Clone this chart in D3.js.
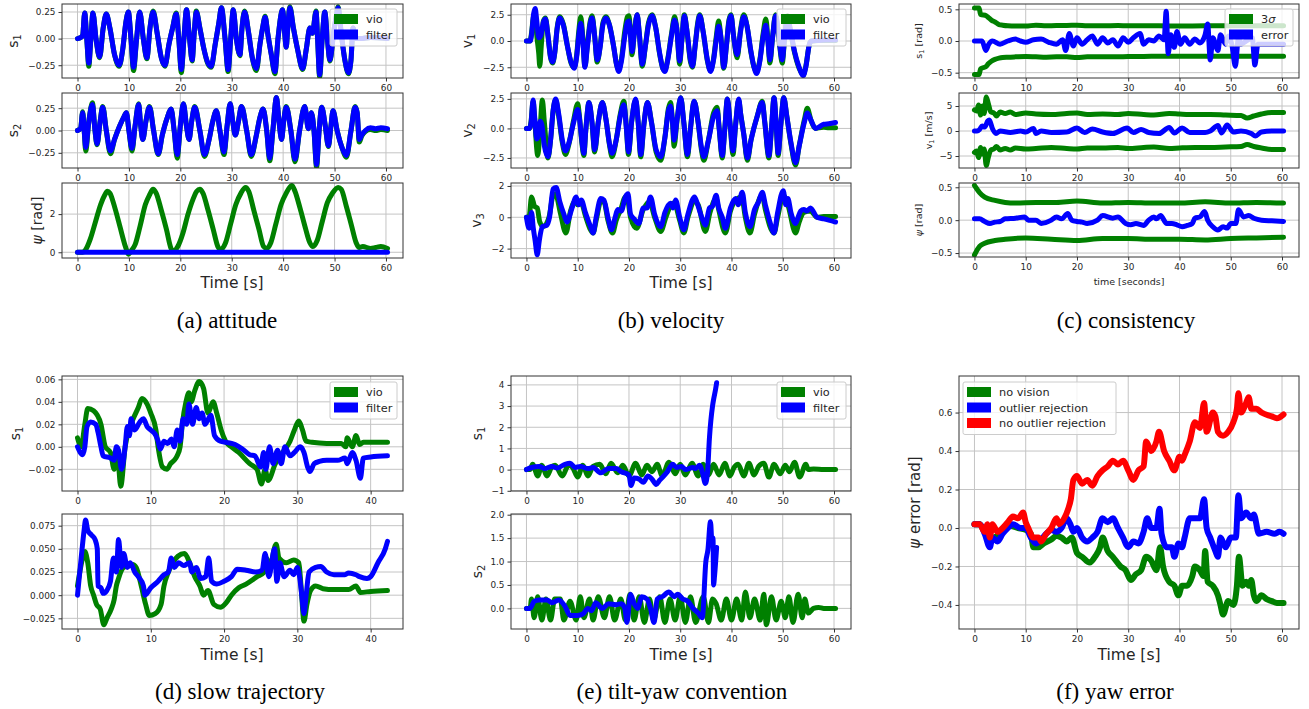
<!DOCTYPE html>
<html>
<head>
<meta charset="utf-8">
<script src="https://cdn.jsdelivr.net/npm/d3@7"></script>
<style>
body { margin: 0; background: #fff; }
svg { display: block; font-family: "DejaVu Sans", sans-serif; }
</style>
</head>
<body>
<svg id="fig" width="1309" height="709"></svg>
<script>
// ---- (a) attitude ----
var attS1Vio = [[0,0],[0.6,0.01],[1.0,0.03],[1.4,0.24],[1.8,0.0],[2.2,-0.26],[2.6,0.0],[3.0,0.24],[3.6,0.0],[4.3,-0.18],[5.0,0.1],[5.6,0.23],[6.3,0.1],[7.2,-0.15],[8.1,-0.26],[8.8,-0.1],[9.4,0.15],[9.9,0.25],[10.4,0.0],[10.9,-0.3],[11.5,0.0],[12.1,0.25],[12.8,0.0],[13.5,-0.19],[14.1,0.1],[14.7,0.26],[15.5,0.05],[16.3,-0.18],[17.0,-0.26],[17.8,-0.05],[18.5,0.1],[19.2,0.24],[19.7,0.0],[20.2,-0.32],[20.7,0.0],[21.2,0.27],[21.8,0.0],[22.3,-0.21],[22.7,0.05],[23.1,0.26],[23.8,0.1],[24.6,-0.1],[25.3,-0.23],[26.0,-0.27],[26.8,-0.05],[27.5,0.15],[28.0,0.29],[28.7,0.0],[29.3,-0.31],[29.8,0.0],[30.3,0.27],[30.9,0.0],[31.6,-0.16],[32.0,0.1],[32.5,0.26],[33.3,0.05],[34.0,-0.18],[34.8,-0.3],[35.5,-0.05],[36.0,0.1],[36.5,0.21],[37.0,0.05],[37.7,-0.15],[38.4,-0.33],[39.0,0.0],[39.9,0.27],[40.3,0.05],[40.6,-0.08],[40.9,0.1],[41.3,0.3],[42.0,0.1],[42.8,-0.1],[43.8,-0.29],[44.5,-0.1],[45.2,0.1],[45.7,0.05],[46.4,0.26],[46.7,0.0],[47.1,-0.36],[47.6,0.0],[48.1,0.25],[48.6,0.0],[49.1,-0.21],[49.8,0.05],[50.3,0.2],[50.7,0.3],[51.3,0.05],[52.0,-0.2],[52.7,-0.33],[53.2,-0.2],[53.6,0.1],[54.0,0.0],[55,0.0],[57,0.01],[60.3,0.0]];
var attS1Filter = [[0,0],[0.6,0.01],[1.0,0.03],[1.4,0.24],[1.8,0.0],[2.2,-0.23],[2.6,0.0],[3.0,0.24],[3.6,0.0],[4.3,-0.17],[5.0,0.1],[5.6,0.23],[6.3,0.1],[7.2,-0.15],[8.1,-0.25],[8.8,-0.1],[9.4,0.15],[9.9,0.25],[10.4,0.0],[10.9,-0.27],[11.5,0.0],[12.1,0.25],[12.8,0.0],[13.5,-0.18],[14.1,0.1],[14.7,0.25],[15.5,0.05],[16.3,-0.18],[17.0,-0.25],[17.8,-0.05],[18.5,0.1],[19.2,0.23],[19.7,0.0],[20.2,-0.29],[20.7,0.0],[21.2,0.27],[21.8,0.0],[22.3,-0.2],[22.7,0.05],[23.1,0.25],[23.8,0.1],[24.6,-0.1],[25.3,-0.22],[26.0,-0.26],[26.8,-0.05],[27.5,0.15],[28.0,0.29],[28.7,0.0],[29.3,-0.29],[29.8,0.0],[30.3,0.27],[30.9,0.0],[31.6,-0.15],[32.0,0.1],[32.5,0.25],[33.3,0.05],[34.0,-0.18],[34.8,-0.28],[35.5,-0.05],[36.0,0.1],[36.5,0.2],[37.0,0.05],[37.7,-0.15],[38.4,-0.31],[39.0,0.0],[39.9,0.27],[40.3,0.05],[40.6,-0.08],[40.9,0.1],[41.3,0.29],[42.0,0.1],[42.8,-0.1],[43.8,-0.28],[44.5,-0.1],[45.2,0.1],[45.7,0.05],[46.4,0.25],[46.7,0.0],[47.1,-0.34],[47.6,0.0],[48.1,0.25],[48.6,0.0],[49.1,-0.2],[49.8,0.05],[50.3,0.2],[50.7,0.29],[51.3,0.05],[52.0,-0.2],[52.7,-0.32],[53.2,-0.2],[53.6,0.1],[54.0,0.0],[55,0.0],[57,0.01],[60.3,0.0]];
var attS2Vio = [[0,0],[0.6,0.02],[1.0,0.21],[1.3,0.0],[1.6,-0.23],[2.2,0.1],[2.9,0.31],[3.4,0.0],[3.8,-0.16],[4.4,0.1],[4.9,0.27],[5.6,0.0],[6.4,-0.26],[7.2,-0.1],[8.2,0.05],[9.0,0.15],[9.5,0.2],[10.0,0.0],[10.6,-0.23],[11.2,0.05],[11.9,0.3],[12.3,0.05],[12.7,-0.1],[13.3,0.1],[14.0,0.27],[14.8,0.0],[15.7,-0.27],[16.5,-0.05],[17.5,0.15],[18.2,0.24],[18.8,0.0],[19.4,-0.31],[20.0,0.05],[20.6,0.3],[21.2,0.05],[21.7,-0.1],[22.2,0.1],[22.8,0.27],[23.8,0.0],[24.7,-0.29],[25.6,-0.1],[26.3,0.1],[27.0,0.22],[27.7,0.0],[28.5,-0.27],[29.1,0.05],[29.7,0.3],[30.2,0.1],[30.7,-0.05],[31.3,0.1],[31.9,0.27],[32.9,0.0],[33.8,-0.29],[34.8,-0.05],[35.5,0.15],[36.1,0.24],[36.8,0.0],[37.4,-0.34],[38.0,0.0],[38.7,0.37],[39.2,0.1],[39.7,-0.1],[40.1,0.1],[40.6,0.27],[41.5,0.0],[42.3,-0.35],[43.2,0.0],[44.2,0.27],[44.9,0.02],[45.5,0.2],[46.0,0.0],[46.5,-0.41],[47.0,0.0],[47.5,0.26],[48.2,0.05],[48.8,-0.18],[49.3,0.05],[49.7,0.22],[50.5,0.0],[51.5,-0.2],[52.3,-0.3],[53.2,0.0],[54.0,0.27],[54.4,0.2],[54.8,-0.13],[55.3,-0.06],[56.0,-0.01],[57.0,0.01],[58.0,0.0],[59.0,0.01],[60.3,0.0]];
var attS2Filter = [[0,0],[0.6,0.02],[1.0,0.2],[1.3,0.0],[1.6,-0.19],[2.2,0.1],[2.9,0.29],[3.4,0.0],[3.8,-0.15],[4.4,0.1],[4.9,0.26],[5.6,0.0],[6.4,-0.23],[7.2,-0.1],[8.2,0.05],[9.0,0.15],[9.5,0.2],[10.0,0.0],[10.6,-0.2],[11.2,0.05],[11.9,0.29],[12.3,0.05],[12.7,-0.1],[13.3,0.1],[14.0,0.26],[14.8,0.0],[15.7,-0.26],[16.5,-0.05],[17.5,0.15],[18.2,0.24],[18.8,0.0],[19.4,-0.27],[20.0,0.05],[20.6,0.3],[21.2,0.05],[21.7,-0.1],[22.2,0.1],[22.8,0.26],[23.8,0.0],[24.7,-0.27],[25.6,-0.1],[26.3,0.1],[27.0,0.22],[27.7,0.0],[28.5,-0.24],[29.1,0.05],[29.7,0.3],[30.2,0.1],[30.7,-0.05],[31.3,0.1],[31.9,0.27],[32.9,0.0],[33.8,-0.27],[34.8,-0.05],[35.5,0.15],[36.1,0.24],[36.8,0.0],[37.4,-0.31],[38.0,0.0],[38.7,0.37],[39.2,0.1],[39.7,-0.1],[40.1,0.1],[40.6,0.26],[41.5,0.0],[42.3,-0.32],[43.2,0.0],[44.2,0.27],[44.9,0.02],[45.5,0.2],[46.0,0.0],[46.5,-0.38],[47.0,0.0],[47.5,0.26],[48.2,0.05],[48.8,-0.17],[49.3,0.05],[49.7,0.22],[50.5,0.0],[51.5,-0.2],[52.3,-0.28],[53.2,0.0],[54.0,0.26],[54.4,0.2],[54.8,-0.1],[55.3,-0.05],[56.0,0.0],[57.0,0.03],[58.0,0.02],[59.0,0.03],[60.3,0.02]];
var attPsiVio = [[0,0],[1.0,0.0],[1.5,0.1],[2.5,0.7],[3.5,1.6],[4.5,2.5],[5.3,3.0],[5.8,3.2],[6.3,3.1],[7.3,2.3],[8.3,1.3],[9.2,0.4],[9.7,0.0],[9.9,-0.1],[10.5,0.1],[11.2,0.4],[12.2,1.4],[13.2,2.5],[14.0,3.0],[14.7,3.3],[15.3,3.1],[16.3,2.2],[17.3,1.2],[18.2,0.2],[18.6,0.05],[19.5,0.3],[20.5,1.0],[21.5,2.0],[22.5,2.8],[23.2,3.2],[23.8,3.3],[24.4,3.1],[25.4,2.2],[26.4,1.2],[27.3,0.3],[27.8,0.15],[28.8,0.5],[29.8,1.5],[30.8,2.5],[31.8,3.1],[32.7,3.4],[33.3,3.2],[34.3,2.2],[35.3,1.2],[36.2,0.3],[36.8,0.2],[37.6,0.5],[38.6,1.5],[39.6,2.5],[40.6,3.1],[41.7,3.5],[42.3,3.2],[43.3,2.3],[44.3,1.3],[45.2,0.5],[45.8,0.3],[46.6,0.6],[47.6,1.6],[48.6,2.6],[49.6,3.1],[50.7,3.4],[51.3,3.3],[52.3,2.4],[53.3,1.4],[54.2,0.5],[54.8,0.25],[55.5,0.3],[57,0.2],[58,0.25],[59,0.3],[60.3,0.2]];
var attPsiFilter = [[0,0],[60.3,0]];

// ---- (b) velocity ----
var velV1Vio = [[0,0],[0.7,0.0],[1.0,0.8],[1.4,2.4],[1.7,2.5],[2.0,0.6],[2.4,-1.2],[2.6,-2.4],[2.9,-0.4],[3.3,1.9],[3.7,2.2],[4.2,0.5],[4.7,-1.6],[5.1,-2.1],[5.5,-1.2],[6.0,1.3],[6.5,2.3],[7.2,1.6],[8.0,-0.5],[8.7,-2.1],[9.3,-2.5],[9.8,-1.3],[10.2,0.9],[10.6,2.3],[11.0,0.3],[11.4,-2.4],[11.9,-0.3],[12.4,1.8],[12.8,2.4],[13.3,0.5],[13.8,-2.0],[14.4,-0.4],[14.9,1.7],[15.5,2.3],[16.2,1.5],[17.0,-0.5],[17.6,-2.3],[18.0,-2.7],[18.5,-1.8],[19.2,1.0],[19.7,2.3],[20.0,2.4],[20.3,0.8],[20.6,-1.3],[21.0,0.6],[21.6,2.5],[22.0,0.8],[22.6,-2.4],[23.2,-0.5],[23.8,1.7],[24.5,2.5],[25.2,1.3],[26.0,-1.3],[26.6,-2.6],[27.0,-2.8],[27.5,-1.9],[28.3,0.7],[28.9,2.3],[29.3,1.3],[29.9,-2.2],[30.3,0.0],[30.8,2.5],[31.3,1.0],[32.0,-2.0],[32.4,-2.5],[32.9,-0.5],[33.4,1.7],[33.8,2.5],[34.5,0.8],[35.3,-1.9],[35.9,-2.8],[36.5,-1.7],[37.0,0.3],[37.5,1.9],[37.9,0.5],[38.5,-2.6],[39.0,-0.5],[39.5,2.0],[39.9,2.5],[40.4,0.5],[41.1,-1.6],[41.8,1.2],[42.4,2.5],[43.0,1.5],[43.8,-1.1],[44.4,-2.5],[44.9,-2.9],[45.5,-1.9],[46.2,0.8],[46.7,2.1],[47.1,0.2],[47.5,-2.1],[48.0,0.3],[48.6,2.5],[49.2,0.5],[49.9,-2.1],[50.4,0.5],[50.9,2.4],[51.5,1.0],[52.3,-1.1],[53.2,-2.6],[54.0,-3.2],[54.5,-2.4],[55.2,-0.3],[55.6,0.0],[57,0.05],[58.5,0.05],[60.3,0.05]];
var velV1Filter = [[0,0],[0.7,0.0],[1.0,0.6],[1.4,2.6],[1.7,3.1],[2.0,2.0],[2.4,0.3],[2.8,0.5],[3.3,1.8],[3.7,2.1],[4.2,0.5],[4.7,-1.5],[5.1,-2.0],[5.5,-1.2],[6.0,1.2],[6.5,2.2],[7.2,1.5],[8.0,-0.5],[8.7,-2.0],[9.3,-2.6],[9.8,-1.5],[10.2,0.5],[10.6,1.7],[11.0,0.0],[11.4,-2.5],[11.9,-0.5],[12.4,1.5],[12.8,2.2],[13.3,0.5],[13.8,-1.8],[14.4,-0.5],[14.9,1.5],[15.5,2.2],[16.2,1.5],[17.0,-0.5],[17.6,-2.3],[18.0,-2.9],[18.5,-2.0],[19.2,0.5],[19.7,1.8],[20.0,1.9],[20.3,0.5],[20.6,-1.0],[21.0,0.5],[21.6,2.5],[22.0,0.8],[22.6,-2.2],[23.2,-0.5],[23.8,1.5],[24.5,2.4],[25.2,1.3],[26.0,-1.2],[26.6,-2.6],[27.0,-2.9],[27.5,-2.0],[28.3,0.5],[28.9,2.0],[29.3,1.3],[29.9,-1.9],[30.3,0.0],[30.8,2.4],[31.3,1.0],[32.0,-1.8],[32.4,-2.4],[32.9,-0.5],[33.4,1.5],[33.8,2.4],[34.5,0.8],[35.3,-1.8],[35.9,-2.9],[36.5,-1.8],[37.0,0.0],[37.5,1.4],[37.9,0.5],[38.5,-2.5],[39.0,-0.5],[39.5,1.8],[39.9,2.4],[40.4,0.5],[41.1,-1.3],[41.8,1.0],[42.4,2.3],[43.0,1.5],[43.8,-1.0],[44.4,-2.5],[44.9,-3.1],[45.5,-2.0],[46.2,0.5],[46.7,1.5],[47.1,0.0],[47.5,-1.8],[48.0,0.3],[48.6,2.4],[49.2,0.5],[49.9,-1.8],[50.4,0.5],[50.9,2.2],[51.5,1.0],[52.3,-1.0],[53.2,-2.5],[54.0,-3.3],[54.5,-2.5],[55.2,-0.3],[55.6,0.0],[57,0.05],[58.5,0.1],[60.3,0.1]];
var velV2Vio = [[0,0],[0.6,0.0],[0.9,0.6],[1.3,2.3],[1.6,0.8],[2.2,-2.3],[2.6,-0.5],[3.1,2.4],[3.5,0.5],[4.2,-2.5],[4.7,-1.0],[5.2,1.5],[5.7,2.4],[6.3,1.0],[7.0,-1.2],[7.6,-2.2],[8.3,-1.3],[9.2,0.7],[10.0,2.1],[10.3,1.2],[10.8,-1.2],[11.2,-2.3],[11.6,0.0],[12.2,2.2],[12.8,0.4],[13.3,-2.0],[14.0,0.5],[14.8,2.2],[15.5,0.8],[16.2,-1.4],[16.7,-2.4],[17.5,-1.0],[18.3,1.2],[19.0,2.3],[19.5,0.0],[19.9,-2.2],[20.5,0.5],[21.3,2.4],[21.8,0.5],[22.3,-2.4],[22.9,0.3],[23.6,2.2],[24.4,0.5],[25.3,-2.0],[26.2,-2.7],[27.0,-0.8],[27.7,1.7],[28.1,2.2],[28.5,0.5],[28.8,-1.5],[29.4,0.8],[30.1,2.6],[30.7,0.5],[31.4,-2.4],[32.0,0.0],[32.7,2.3],[33.5,0.5],[34.1,-1.7],[34.6,-2.7],[35.5,-1.0],[36.5,1.3],[37.2,1.8],[37.6,0.0],[38.2,-2.5],[38.7,0.0],[39.2,2.5],[39.7,0.5],[40.3,-2.2],[40.8,0.3],[41.4,2.4],[41.8,1.2],[42.4,-0.5],[43.1,-2.7],[43.8,-1.0],[45.0,1.0],[46.0,2.3],[46.5,0.5],[47.3,-2.5],[47.8,0.0],[48.3,2.6],[48.7,0.5],[49.1,-2.3],[49.6,0.2],[50.2,2.6],[50.8,1.0],[51.6,-1.3],[52.5,-3.1],[53.2,-1.5],[54.2,0.7],[54.8,1.7],[55.5,0.7],[56.4,0.0],[57.0,0.05],[58.0,0.1],[59.0,0.05],[60.3,0.05]];
var velV2Filter = [[0,0],[0.6,0.0],[0.9,0.5],[1.3,2.4],[1.6,1.0],[2.0,-0.9],[2.4,-0.5],[2.7,0.6],[3.0,0.3],[3.5,-1.5],[4.2,-2.4],[4.7,-1.0],[5.2,1.5],[5.7,2.5],[6.3,1.2],[7.0,-1.0],[7.6,-1.9],[8.3,-1.2],[9.2,0.5],[10.0,1.6],[10.3,1.0],[10.8,-1.0],[11.2,-2.1],[11.6,0.0],[12.2,2.2],[12.8,0.5],[13.3,-1.8],[14.0,0.5],[14.8,2.2],[15.5,0.8],[16.2,-1.3],[16.7,-2.1],[17.5,-1.0],[18.3,1.0],[19.0,2.0],[19.5,0.0],[19.9,-2.0],[20.5,0.5],[21.3,2.5],[21.8,0.5],[22.3,-2.2],[22.9,0.3],[23.6,2.2],[24.4,0.5],[25.3,-1.8],[26.2,-2.4],[27.0,-0.8],[27.7,1.5],[28.1,1.9],[28.5,0.5],[28.8,-1.0],[29.4,0.8],[30.1,2.6],[30.7,0.5],[31.4,-2.2],[32.0,0.0],[32.7,2.3],[33.5,0.5],[34.1,-1.5],[34.6,-2.4],[35.5,-1.0],[36.5,1.0],[37.2,1.5],[37.6,0.0],[38.2,-2.3],[38.7,0.0],[39.2,2.5],[39.7,0.5],[40.3,-1.9],[40.8,0.3],[41.4,2.5],[41.8,1.2],[42.4,-0.5],[43.1,-2.5],[43.8,-1.0],[45.0,1.0],[46.0,2.2],[46.5,0.5],[47.3,-2.3],[47.8,0.0],[48.3,2.6],[48.7,0.5],[49.1,-2.1],[49.6,0.2],[50.2,2.6],[50.8,1.0],[51.6,-1.2],[52.5,-2.9],[53.2,-1.5],[54.2,0.5],[54.8,1.3],[55.5,0.7],[56.4,0.0],[57.0,0.1],[58.0,0.35],[59.0,0.4],[60.3,0.5]];
var velV3Vio = [[0,0],[0.5,0.0],[1.0,1.3],[1.6,0.7],[2.1,0.6],[2.6,-0.3],[3.3,-0.6],[4.4,0.0],[5.3,1.5],[5.8,1.4],[6.6,0.3],[7.7,-1.0],[8.6,0.4],[9.4,1.0],[10.0,0.8],[10.7,0.9],[11.5,0.1],[12.5,-0.8],[13.0,-1.0],[13.6,-0.2],[14.5,1.0],[15.1,1.0],[15.9,-0.2],[16.8,-1.0],[17.5,-0.2],[18.4,0.5],[19.3,1.3],[19.7,1.2],[20.3,0.0],[21.5,-0.7],[22.8,0.5],[24.0,1.0],[25.0,0.0],[26.2,-0.9],[27.2,0.0],[28.5,0.9],[29.0,0.8],[29.9,-0.2],[30.7,-1.0],[31.5,0.0],[32.8,1.0],[33.5,0.8],[34.9,-0.9],[35.8,0.3],[37.0,1.2],[37.5,0.5],[38.8,-1.0],[39.8,0.4],[40.8,1.1],[42.0,1.3],[42.7,0.0],[43.6,-1.0],[44.5,0.2],[46.0,1.4],[46.6,0.5],[48.3,-1.0],[49.0,0.0],[50.1,1.4],[51.0,0.8],[52.5,-1.0],[53.2,-0.3],[54.1,0.3],[55.4,0.4],[56.7,0.0],[58.0,0.05],[60.3,0.05]];
var velV3Filter = [[0,0],[0.5,-0.7],[1.0,0.3],[1.3,-0.6],[1.7,-1.5],[2.1,-2.4],[2.5,-1.5],[3.1,-0.6],[4.0,-0.5],[4.5,0.0],[5.2,1.8],[5.8,1.9],[6.5,1.0],[7.3,0.2],[7.9,-0.3],[8.9,0.6],[9.7,1.3],[10.2,0.8],[10.7,1.1],[11.5,0.3],[12.5,-0.6],[13.0,-1.0],[13.6,0.0],[14.5,1.2],[15.1,1.1],[15.9,0.0],[16.6,-0.8],[17.3,0.0],[17.8,0.5],[18.5,0.4],[19.3,1.3],[19.8,1.5],[20.3,0.2],[21.0,-0.1],[21.9,-0.4],[22.8,0.6],[23.5,0.6],[24.2,1.3],[25.0,0.2],[26.2,-0.6],[27.0,0.3],[28.1,0.9],[28.6,0.6],[29.1,1.1],[29.9,0.0],[30.7,-0.8],[31.5,0.2],[32.8,1.3],[33.3,0.9],[34.2,0.0],[34.9,-0.5],[35.7,0.6],[36.3,0.7],[37.0,1.4],[37.5,0.6],[38.2,0.0],[38.8,-0.7],[39.8,0.6],[40.8,1.2],[41.3,0.8],[42.1,1.6],[42.7,0.3],[43.6,-0.6],[44.5,0.5],[45.3,1.0],[46.0,1.6],[46.6,0.8],[47.5,-0.3],[48.3,-1.0],[49.0,0.3],[50.1,1.7],[50.6,0.8],[51.0,1.2],[51.6,0.3],[52.5,-0.4],[53.0,0.0],[53.5,0.4],[54.1,0.5],[54.7,0.4],[55.4,0.6],[56.7,0.0],[58.0,-0.1],[60.3,-0.3]];

// ---- (c) consistency ----
var conS1SigUp = [[0,0.52],[0.9,0.52],[1.2,0.42],[2.3,0.4],[2.7,0.37],[3.3,0.33],[4.0,0.3],[4.8,0.26],[5.5,0.25],[6.5,0.24],[8,0.235],[10,0.235],[12,0.25],[14,0.24],[16,0.245],[18,0.245],[20,0.25],[22,0.24],[25,0.24],[28,0.245],[30,0.24],[33,0.24],[36,0.24],[40,0.235],[45,0.24],[50,0.24],[55,0.24],[60.3,0.24]];
var conS1SigLo = [[0,-0.53],[0.9,-0.53],[1.2,-0.44],[2.3,-0.4],[2.7,-0.36],[3.3,-0.32],[4.0,-0.29],[4.8,-0.27],[5.5,-0.26],[6.5,-0.255],[8,-0.25],[10,-0.245],[12,-0.25],[14,-0.255],[16,-0.25],[18,-0.25],[20,-0.26],[22,-0.25],[25,-0.25],[28,-0.25],[30,-0.245],[33,-0.245],[36,-0.24],[40,-0.24],[45,-0.24],[50,-0.24],[55,-0.24],[60.3,-0.24]];
var conS1Err = [[0,0],[1.5,0.0],[2.2,-0.15],[2.8,-0.05],[3.5,0.0],[5,-0.05],[6.5,0.0],[8,0.03],[9,0.0],[10,-0.02],[11.5,0.02],[13,0.03],[14.5,-0.02],[16,-0.05],[17.2,0.02],[17.8,-0.15],[18.5,0.12],[19.3,-0.08],[20,0.05],[21,-0.05],[22,0.02],[23,0.08],[24,-0.05],[25,0.05],[26,-0.03],[27,0.02],[28,-0.08],[29,0.05],[30,-0.02],[31,0.05],[32.3,0.12],[33,-0.05],[34,0.02],[35,0.0],[36,0.08],[37,0.02],[37.4,0.47],[37.8,-0.2],[38.3,0.1],[39,-0.1],[39.5,0.15],[40.2,-0.05],[41,0.05],[42,-0.05],[43,0.03],[44,-0.03],[45,0.1],[45.5,0.27],[46,-0.3],[46.5,0.05],[47.5,-0.15],[48,0.1],[49,-0.05],[49.5,0.08],[50.2,-0.05],[50.9,-0.4],[51.5,0.05],[52,-0.05],[53,0.0],[54.2,0.05],[54.7,-0.38],[55.3,-0.05],[57,-0.05],[60.3,-0.05]];
var conV1SigUp = [[0,4.2],[0.4,4.0],[0.8,5.2],[1.2,3.2],[1.6,5.0],[1.9,3.5],[2.3,6.8],[2.7,5.5],[3.2,3.8],[3.8,3.6],[4.3,3.0],[5.0,3.8],[6.0,3.5],[7.0,3.8],[8.0,3.3],[10,3.6],[12,3.4],[15,3.3],[18,3.5],[20,3.6],[22,3.3],[25,3.4],[28,3.3],[30,3.5],[33,3.3],[35,3.2],[38,3.5],[40,3.4],[43,3.3],[46,3.3],[49,3.2],[52,3.1],[53.2,2.6],[54.5,3.0],[56,3.4],[58,3.7],[60.3,3.7]];
var conV1SigLo = [[0,-4.3],[0.4,-4.0],[0.8,-5.3],[1.2,-3.3],[1.6,-4.6],[1.9,-3.6],[2.3,-6.9],[2.7,-5.3],[3.2,-3.8],[3.8,-3.6],[4.3,-3.1],[5.0,-3.8],[6.0,-3.5],[7.0,-3.8],[8.0,-3.4],[10,-3.6],[12,-3.5],[15,-3.3],[18,-3.5],[20,-3.6],[22,-3.4],[25,-3.4],[28,-3.3],[30,-3.5],[33,-3.3],[35,-3.2],[38,-3.5],[40,-3.4],[43,-3.3],[46,-3.3],[49,-3.2],[52,-3.1],[53.2,-2.7],[54.5,-3.1],[56,-3.4],[58,-3.7],[60.3,-3.7]];
var conV1Err = [[0,0],[0.5,0.0],[1.0,0.3],[1.5,1.0],[2.0,0.8],[2.6,2.0],[2.9,2.2],[3.5,0.5],[4.2,-0.5],[5,0.0],[7,-0.3],[9,0.0],[10,-0.2],[11.5,0.5],[12,-0.5],[13,0.0],[15,-0.3],[18,-0.2],[20,0.6],[21.5,-0.3],[23,0.4],[25,-0.2],[27,-0.5],[29.8,0.6],[31,-0.3],[32.5,0.3],[34,-0.3],[36,-0.5],[38,0.7],[39,-0.4],[40.5,0.6],[42,-0.3],[45,-0.3],[46,0.0],[47.5,1.1],[48.2,-0.4],[49.3,1.2],[50.5,-0.2],[52,0.0],[54,-0.5],[54.8,-1.0],[56,-0.2],[58,0.0],[60.3,0.0]];
var conPsiSigUp = [[0,0.53],[1,0.42],[2,0.35],[4,0.3],[6,0.27],[8,0.26],[12,0.27],[16,0.27],[20,0.29],[25,0.26],[30,0.27],[35,0.26],[40,0.26],[45,0.28],[50,0.26],[55,0.27],[60.3,0.26]];
var conPsiSigLo = [[0,-0.53],[1,-0.4],[2,-0.35],[4,-0.31],[6,-0.29],[10,-0.27],[15,-0.29],[20,-0.31],[25,-0.28],[30,-0.28],[35,-0.29],[40,-0.29],[45,-0.3],[50,-0.28],[55,-0.27],[60.3,-0.26]];
var conPsiErr = [[0,0.02],[1,0.02],[2,-0.02],[3,-0.05],[4,-0.03],[5,-0.02],[6,0.02],[8,0.03],[9.8,0.05],[10.5,0.0],[12,0.0],[13,-0.05],[15,0.0],[16,0.05],[17,0.02],[18.2,0.1],[19,0.0],[20,-0.02],[21,-0.03],[22,-0.05],[24,0.0],[25,0.07],[27,0.03],[28,0.05],[29.5,-0.05],[30.5,-0.07],[31.5,-0.05],[33,-0.08],[34,0.0],[35,0.05],[35.5,0.02],[36.3,0.07],[37.5,-0.05],[38.5,-0.05],[39.5,-0.07],[40.5,-0.1],[41.5,-0.08],[42.5,-0.05],[43,0.03],[44,0.05],[44.9,0.13],[45.5,0.0],[46.5,-0.1],[47.5,-0.15],[48.5,-0.1],[49.3,-0.12],[50,-0.05],[51,-0.05],[51.5,0.16],[52.5,0.05],[53.5,0.07],[54.5,0.03],[56,0.0],[58,-0.01],[60.3,-0.02]];

// ---- (d) slow trajectory ----
var slowS1Vio = [[0,0.008],[0.5,0.0],[1.0,0.02],[1.4,0.034],[2.2,0.032],[3.2,0.02],[3.8,0.0],[4.5,-0.005],[5.0,-0.02],[5.5,-0.012],[5.9,-0.035],[6.5,0.0],[7.0,0.015],[7.6,0.025],[8.3,0.035],[8.8,0.043],[9.5,0.038],[10,0.03],[10.7,0.015],[11,0.0],[11.6,-0.018],[12.2,-0.02],[12.7,-0.015],[13.2,-0.012],[13.6,-0.008],[14,0.0],[14.3,0.02],[14.8,0.04],[15.2,0.048],[15.5,0.04],[16.0,0.05],[16.6,0.058],[17.2,0.052],[17.8,0.03],[18.5,0.04],[19,0.03],[19.6,0.015],[20.2,0.005],[21,0.0],[22,-0.005],[23.5,-0.015],[24.5,-0.02],[25.1,-0.033],[25.6,-0.02],[26,-0.03],[27,-0.015],[28,-0.005],[29,0.005],[29.6,0.015],[30.2,0.023],[30.7,0.015],[31.2,0.005],[32,0.004],[34,0.003],[36,0.003],[36.6,0.0],[36.8,0.008],[37.5,0.0],[38,0.01],[38.5,0.002],[39,0.004],[42.3,0.004]];
var slowS1Filter = [[0,0.0],[0.7,-0.007],[1.0,0.0],[1.3,0.018],[1.8,0.022],[2.5,0.02],[2.8,0.013],[3.2,0.0],[3.5,-0.008],[4.5,-0.01],[5,-0.012],[5.3,0.0],[5.6,-0.003],[6.0,-0.02],[6.5,0.0],[6.8,0.018],[7.1,0.01],[7.3,0.025],[7.8,0.015],[8.5,0.022],[9,0.025],[9.5,0.018],[10,0.015],[10.7,0.01],[11,0.005],[11.3,-0.002],[11.8,0.005],[12.3,0.003],[12.8,0.007],[13.2,0.0],[13.6,0.015],[14,0.005],[14.4,0.025],[14.9,0.02],[15.2,0.038],[15.7,0.02],[16.2,0.035],[16.6,0.025],[17,0.03],[17.4,0.02],[18.2,0.028],[18.7,0.01],[19.5,0.005],[20.3,0.004],[21.5,0.002],[22.5,-0.002],[23.5,-0.007],[24.2,-0.008],[25,-0.018],[25.4,-0.005],[25.7,-0.02],[26.2,0.0],[26.7,-0.015],[27.3,-0.003],[27.8,-0.015],[28.3,0.0],[29,-0.008],[29.6,-0.005],[30.4,0.0],[30.9,-0.005],[31.4,-0.018],[31.7,-0.022],[32.3,-0.015],[33,-0.013],[34,-0.012],[35.5,-0.012],[36.5,-0.01],[36.8,-0.015],[37.5,-0.005],[38,-0.012],[38.6,-0.028],[39,-0.01],[40,-0.009],[42.3,-0.008]];
var slowS2Vio = [[0,0.01],[0.7,0.04],[1.0,0.047],[1.4,0.035],[1.8,0.01],[2.2,0.0],[2.6,-0.01],[3.1,-0.015],[3.6,-0.032],[4.0,-0.025],[4.6,-0.015],[5.0,-0.005],[5.3,0.01],[5.6,0.018],[5.9,0.025],[6.3,0.03],[7.5,0.033],[8,0.03],[8.7,0.01],[9.3,-0.01],[9.8,-0.022],[10.6,-0.02],[11.4,-0.01],[11.8,0.01],[12.4,0.025],[13,0.035],[13.7,0.042],[14.6,0.045],[15.3,0.035],[16,0.02],[16.7,0.01],[17.2,0.0],[17.8,0.005],[18.6,-0.01],[19.5,-0.013],[20.3,-0.008],[21,0.0],[22,0.008],[23,0.012],[24.5,0.02],[25.5,0.025],[25.8,0.04],[26.2,0.03],[27.1,0.055],[27.5,0.04],[28.5,0.035],[29.5,0.038],[30.2,0.035],[30.5,0.01],[30.9,-0.028],[31.3,-0.01],[31.8,0.005],[32.5,0.01],[33.5,0.007],[35,0.006],[37,0.006],[38,0.01],[38.6,0.003],[40,0.004],[42.3,0.005]];
var slowS2Filter = [[0,0.0],[0.5,0.04],[0.9,0.07],[1.1,0.081],[1.4,0.07],[1.9,0.065],[2.4,0.06],[2.7,0.05],[2.8,0.01],[3.2,0.008],[3.5,0.002],[4.0,0.005],[4.5,0.015],[4.9,0.04],[5.3,0.025],[5.6,0.06],[6.0,0.03],[6.3,0.045],[6.8,0.03],[7.2,0.035],[7.8,0.025],[8.3,0.02],[9.0,0.01],[9.2,0.0],[10,0.008],[11,0.015],[11.8,0.022],[12.4,0.025],[12.8,0.04],[13.2,0.03],[13.8,0.035],[14.5,0.032],[15.3,0.035],[15.6,0.025],[16.2,0.03],[16.8,0.018],[17.5,0.02],[17.9,0.04],[18.3,0.015],[19,0.012],[20,0.015],[21,0.02],[21.8,0.028],[23,0.027],[24.3,0.025],[25.2,0.027],[25.6,0.045],[26.1,0.02],[26.9,0.05],[27.2,0.015],[27.6,0.035],[28.2,0.02],[29,0.027],[29.5,0.022],[30,0.03],[30.3,0.02],[30.6,0.0],[30.9,-0.02],[31.2,0.0],[31.6,0.025],[32.5,0.03],[33.2,0.031],[34,0.025],[35,0.022],[36.5,0.022],[37,0.024],[38,0.022],[38.5,0.02],[39.5,0.018],[40,0.02],[41,0.035],[42,0.05],[42.3,0.058]];

// ---- (e) tilt-yaw convention ----
var tiltS1Vio = [[0,0],[0.7,0],[1.2,0.25],[2.2,-0.3],[3.0,0.2],[4.0,-0.3],[5.0,0.15],[5.6,0.2],[7.0,-0.3],[8.2,0.2],[9.0,0.1],[10.0,-0.35],[11.0,0.2],[12.0,-0.3],[13.0,0.15],[14.3,0.25],[15.5,-0.2],[16.5,0.3],[17.8,-0.15],[18.8,0.2],[20.0,-0.3],[21.3,0.3],[22.5,-0.25],[23.5,0.2],[24.5,-0.1],[25.5,0.25],[26.5,-0.3],[27.8,0.35],[29.0,-0.2],[30.0,0.25],[31.0,-0.25],[32.3,0.3],[33.5,-0.3],[34.5,0.25],[35.5,-0.25],[36.5,0.25],[37.6,-0.25],[38.7,0.3],[39.7,-0.3],[40.5,0.1],[41.3,0.25],[42.4,-0.3],[43.4,0.3],[44.4,-0.25],[45.3,0.15],[46.3,0.3],[47.3,-0.35],[48.3,0.25],[49.5,-0.2],[50.5,0.2],[51.3,-0.1],[52.3,0.35],[53.3,-0.35],[54.5,0.25],[55.0,0.0],[56,0.03],[58,0.0],[60.3,0.0]];
var tiltS1Filter = [[0,0],[1,0.1],[2.5,0.15],[3.5,0.05],[5,0.15],[6,0.08],[7.5,0.25],[8.5,0.3],[9.5,0.1],[10.5,0.15],[12,0.05],[13,0.1],[14.5,-0.15],[16,0.05],[17.5,0.05],[18.5,-0.1],[20,-0.25],[20.4,-0.75],[21,-0.4],[22,-0.45],[22.8,-0.6],[23.7,-0.3],[24.5,-0.45],[25.3,-0.7],[26,-0.5],[27.5,-0.1],[28.5,0.25],[29.3,0.1],[30.3,0.15],[31,0.0],[32.5,0.1],[33,0.05],[33.8,0.2],[34.3,-0.1],[34.9,-0.65],[35.3,-0.2],[35.7,1.5],[36.3,3.0],[36.5,3.3],[36.9,3.8],[37.1,4.1]];
var tiltS2Vio = [[0,0],[0.7,0],[1.0,0.2],[1.5,-0.2],[2.2,0.25],[3.0,-0.25],[3.8,0.2],[4.7,-0.25],[5.5,0.2],[6.6,0.2],[7.3,-0.25],[8.5,0.15],[9.7,-0.25],[10.5,0.25],[11.2,-0.2],[12.3,0.2],[13.0,-0.25],[14.0,0.25],[15.2,-0.2],[16.2,0.25],[17.2,-0.25],[18.4,0.2],[19.3,-0.25],[20.2,0.3],[21.0,-0.25],[22.0,0.25],[23.0,-0.3],[24.0,0.2],[24.8,-0.25],[26.0,0.25],[27.0,-0.3],[28.0,0.2],[29.0,-0.25],[30.0,0.25],[31.0,-0.3],[32.0,0.25],[33.0,-0.3],[34.5,0.25],[35.5,-0.3],[36.3,0.2],[37.0,0.1],[38.0,-0.25],[39.0,0.2],[40.0,-0.25],[41.0,0.2],[42.0,-0.25],[42.7,0.35],[43.6,-0.2],[44.5,0.2],[45.6,-0.25],[46.3,0.3],[46.8,-0.35],[47.8,0.25],[48.7,-0.25],[49.7,0.15],[50.5,-0.2],[51.2,0.25],[52.0,-0.3],[53.0,0.3],[53.8,-0.2],[54.3,0.2],[55.0,-0.1],[56.0,0.0],[57,0.02],[58,0.0],[60.3,0.0]];
var tiltS2Filter = [[0,0],[0.7,0.0],[1.5,0.15],[2.5,0.18],[4,0.18],[5,0.12],[6.3,0.18],[7.5,0.05],[8.5,-0.15],[10,-0.15],[11,-0.12],[12,0.0],[12.7,-0.05],[13.5,0.12],[14.8,0.0],[16,0.1],[17.5,0.08],[18.5,0.1],[19.2,0.0],[19.6,-0.3],[20.3,0.3],[21,0.1],[21.7,0.0],[22.5,0.25],[23.5,0.2],[24.2,0.0],[24.9,-0.3],[25.5,0.2],[26.5,0.25],[27.8,0.35],[28.8,0.25],[29.5,0.3],[30.5,0.2],[31.5,0.15],[32.5,0.0],[33.5,-0.1],[34.3,-0.2],[35.0,1.0],[35.4,1.25],[35.9,1.85],[36.2,1.4],[36.4,1.5],[36.5,0.5],[36.7,0.7],[37.1,1.3]];

// ---- (f) yaw error ----
var yawNoVision = [[0,0.02],[1,0.02],[2,-0.02],[3.5,-0.05],[5,-0.03],[6,0.0],[7,0.01],[8.5,0.0],[10,-0.01],[11,-0.03],[11.5,-0.1],[12.5,-0.1],[13.5,-0.08],[15,-0.06],[16,-0.04],[17,-0.05],[18,-0.07],[19,-0.05],[20,-0.13],[21,-0.15],[22.5,-0.18],[23.5,-0.15],[24.5,-0.1],[25,-0.05],[26,-0.12],[27,-0.15],[28.5,-0.2],[29.5,-0.22],[30.5,-0.27],[31.5,-0.24],[32.5,-0.22],[33.5,-0.15],[34.5,-0.17],[35.5,-0.22],[36.2,-0.1],[36.8,-0.2],[38,-0.28],[39,-0.3],[39.8,-0.35],[40.5,-0.3],[41.5,-0.3],[42.5,-0.25],[43,-0.2],[44,-0.22],[44.7,-0.25],[45,-0.12],[45.5,-0.28],[46.5,-0.3],[47.5,-0.35],[48,-0.4],[48.5,-0.45],[49.5,-0.38],[50.5,-0.4],[51.2,-0.3],[51.6,-0.15],[52.3,-0.3],[53,-0.28],[53.5,-0.3],[54,-0.27],[54.5,-0.35],[55,-0.38],[56,-0.35],[57,-0.37],[58,-0.38],[59,-0.39],[60.3,-0.39]];
var yawOutlierRej = [[0,0.02],[1,0.02],[2,-0.03],[3,-0.1],[3.5,-0.05],[4.5,-0.07],[5.5,-0.03],[6.5,0.0],[7.5,0.02],[9,0.0],[10,0.0],[11,-0.05],[12,-0.08],[13,-0.06],[14,-0.03],[15,-0.01],[16,-0.02],[17,0.0],[18,0.05],[18.7,0.02],[19.3,-0.02],[20,0.0],[21,-0.05],[22,-0.07],[23,-0.05],[24,-0.02],[25,0.05],[26,0.03],[27,0.05],[28,0.0],[29,-0.05],[30,-0.1],[31,-0.07],[32,-0.08],[33,-0.02],[33.7,0.05],[34.5,0.0],[35.5,0.0],[36.1,0.1],[36.5,-0.03],[37.5,-0.1],[38.5,-0.1],[39,-0.15],[39.8,-0.08],[40.5,-0.1],[41,-0.05],[42,0.05],[43,0.05],[44,0.05],[44.8,0.15],[45.3,0.0],[46,-0.05],[47,-0.12],[47.5,-0.15],[48,-0.05],[49,-0.1],[50,-0.05],[51,-0.05],[51.5,0.17],[52,0.05],[53,0.08],[54,0.05],[54.5,0.07],[55.5,-0.03],[57,-0.02],[58.5,-0.03],[59.5,-0.02],[60.3,-0.03]];
var yawNoOutlierRej = [[0,0.02],[1,0.02],[2,-0.02],[2.5,0.02],[3,-0.05],[3.5,0.02],[4.5,-0.02],[5.5,0.0],[6.5,0.03],[7.5,0.06],[8.5,0.05],[9.5,0.08],[10,0.03],[10.5,0.0],[11.5,-0.05],[12.5,-0.05],[13,-0.07],[14,-0.03],[15,0.0],[16,0.05],[16.5,0.02],[17.5,0.05],[18.3,0.1],[18.8,0.15],[19.3,0.25],[20,0.27],[21,0.23],[22,0.25],[23,0.22],[24,0.27],[25,0.3],[26,0.32],[27,0.35],[28,0.33],[29,0.35],[30,0.3],[31,0.25],[32,0.3],[33,0.32],[33.5,0.45],[34.5,0.4],[35.5,0.45],[36,0.5],[37,0.4],[38,0.35],[39,0.3],[40,0.37],[40.5,0.35],[41,0.38],[42,0.45],[43,0.55],[44,0.52],[44.8,0.65],[45.3,0.5],[46.5,0.6],[47,0.58],[47.5,0.5],[48.5,0.48],[49.5,0.5],[50.5,0.55],[51.2,0.62],[51.5,0.7],[52,0.6],[53,0.65],[53.5,0.68],[54,0.62],[55,0.62],[56,0.6],[58,0.58],[59,0.57],[60.3,0.59]];

// tick values
var ticksX60 = [0, 10, 20, 30, 40, 50, 60];
var ticksX40 = [0, 10, 20, 30, 40];

var GREEN = "#008000", BLUE = "#0000ff", RED = "#ff0000";
var TEXT = "#262626";

var svg = d3.select("#fig");
var defs = svg.append("defs");
var clipId = 0;

function richText(sel, parts, size) {
    var shift = 0;
    parts.forEach(function (p) {
        var ts = sel.append("tspan").text(p[0]);
        if (p[1] === "it") ts.attr("font-style", "italic");
        if (p[1] === "sub") {
            ts.attr("font-size", size * 0.7).attr("dy", size * 0.22);
            shift = size * 0.22;
        } else if (shift) {
            ts.attr("dy", -shift);
            shift = 0;
        }
    });
}

function drawAxes(cfg) {
    var g = svg.append("g");
    var b = cfg.box;
    var tmax = d3.max(cfg.series, function (s) { return d3.max(s.data, function (d) { return d[0]; }); });
    var x = d3.scaleLinear().domain([-0.05 * tmax, 1.05 * tmax]).range([b[0], b[1]]);
    var y = d3.scaleLinear().domain(cfg.yDomain).range([b[3], b[2]]);

    // grid
    g.selectAll(".gx").data(cfg.xTicks).enter().append("line")
        .attr("x1", x).attr("x2", x).attr("y1", b[2]).attr("y2", b[3])
        .attr("stroke", "#c4c4c4").attr("stroke-width", 1);
    g.selectAll(".gy").data(cfg.yTicks).enter().append("line")
        .attr("x1", b[0]).attr("x2", b[1]).attr("y1", y).attr("y2", y)
        .attr("stroke", "#c4c4c4").attr("stroke-width", 1);

    // series
    var id = "clip" + (clipId++);
    defs.append("clipPath").attr("id", id).append("rect")
        .attr("x", b[0]).attr("y", b[2]).attr("width", b[1] - b[0]).attr("height", b[3] - b[2]);
    var line = d3.line().x(function (d) { return x(d[0]); }).y(function (d) { return y(d[1]); })
        .curve(d3.curveMonotoneX);
    var lg = g.append("g").attr("clip-path", "url(#" + id + ")");
    cfg.series.forEach(function (s) {
        lg.append("path").datum(s.data).attr("d", line)
            .attr("fill", "none").attr("stroke", s.color).attr("stroke-width", cfg.lw || 5)
            .attr("stroke-linejoin", "round").attr("stroke-linecap", "round");
    });

    // axes
    var ax = g.append("g").attr("transform", "translate(0," + b[3] + ")")
        .call(d3.axisBottom(x).tickValues(cfg.xTicks).tickSize(3.5).tickPadding(3).tickFormat(d3.format("d")));
    var ay = g.append("g").attr("transform", "translate(" + b[0] + ",0)")
        .call(d3.axisLeft(y).tickValues(cfg.yTicks).tickSize(3.5).tickPadding(3).tickFormat(d3.format(cfg.yFormat)));
    [ax, ay].forEach(function (a) {
        a.select(".domain").remove();
        a.attr("font-family", "DejaVu Sans").attr("font-size", 8.9);
        a.selectAll("line").attr("stroke", "#333");
        a.selectAll("text").attr("fill", TEXT);
    });
    g.append("rect").attr("x", b[0]).attr("y", b[2]).attr("width", b[1] - b[0]).attr("height", b[3] - b[2])
        .attr("fill", "none").attr("stroke", "#333").attr("stroke-width", 1);

    // y label
    var ls = cfg.ylabelSize || 14;
    var yl = g.append("text")
        .attr("transform", "translate(" + cfg.ylabelX + "," + ((b[2] + b[3]) / 2) + ") rotate(-90)")
        .attr("text-anchor", "middle").attr("font-size", ls).attr("fill", TEXT);
    richText(yl, cfg.ylabel, ls);
    if (cfg.ylabelClip !== undefined) {
        var cid = "clip" + (clipId++);
        defs.append("clipPath").attr("id", cid).append("rect")
            .attr("x", cfg.ylabelClip).attr("y", b[2]).attr("width", 60).attr("height", b[3] - b[2]);
        yl.attr("clip-path", "url(#" + cid + ")");
    }

    if (cfg.legend) drawLegend(g, cfg.legend);
}

function drawLegend(g, lg) {
    var rowH = 15.5;
    var h = 6 + rowH * lg.items.length;
    g.append("rect").attr("x", lg.x).attr("y", lg.y).attr("width", lg.w).attr("height", h)
        .attr("rx", 2).attr("fill", "#fff").attr("fill-opacity", 0.8)
        .attr("stroke", "#cccccc").attr("stroke-width", 1);
    lg.items.forEach(function (it, i) {
        var cy = lg.y + 10 + rowH * i;
        g.append("rect").attr("x", lg.x + 4).attr("y", cy - 5).attr("width", 24).attr("height", 10)
            .attr("fill", it.color);
        var t = g.append("text").attr("x", lg.x + 36).attr("y", cy).attr("dy", "0.36em")
            .attr("font-size", 11.3).attr("fill", TEXT);
        richText(t, it.label, 11.3);
    });
}

function xlabel(text, cx, yb, size) {
    svg.append("text").attr("x", cx).attr("y", yb).attr("text-anchor", "middle")
        .attr("font-size", size).attr("fill", TEXT).text(text);
}

function caption(text, cx, yb) {
    svg.append("text").attr("x", cx).attr("y", yb).attr("text-anchor", "middle")
        .attr("font-family", "Liberation Serif, serif").attr("font-size", 23).attr("fill", "#000").text(text);
}

var vioFilter = [{ label: [["vio"]], color: GREEN }, { label: [["filter"]], color: BLUE }];

// (a)
drawAxes({ box: [62, 403, 4, 78], yDomain: [-0.37, 0.325], yTicks: [-0.25, 0, 0.25], yFormat: ".2f", xTicks: ticksX60,
    series: [{ data: attS1Vio, color: GREEN }, { data: attS1Filter, color: BLUE }],
    ylabel: [["s"], ["1", "sub"]], ylabelX: 18, legend: { x: 330, y: 9, w: 67, items: vioFilter } });
drawAxes({ box: [62, 403, 93, 168], yDomain: [-0.42, 0.42], yTicks: [-0.25, 0, 0.25], yFormat: ".2f", xTicks: ticksX60,
    series: [{ data: attS2Vio, color: GREEN }, { data: attS2Filter, color: BLUE }],
    ylabel: [["s"], ["2", "sub"]], ylabelX: 18 });
drawAxes({ box: [62, 403, 183, 258], yDomain: [-0.3, 3.63], yTicks: [0, 2], yFormat: "d", xTicks: ticksX60,
    series: [{ data: attPsiVio, color: GREEN }, { data: attPsiFilter, color: BLUE }],
    ylabel: [["ψ", "it"], [" [rad]"]], ylabelX: 42 });
xlabel("Time [s]", 232, 288, 15.5);
caption("(a) attitude", 227, 328);

// (b)
drawAxes({ box: [511, 851, 4, 78], yDomain: [-3.52, 3.52], yTicks: [-2.5, 0, 2.5], yFormat: ".1f", xTicks: ticksX60,
    series: [{ data: velV1Vio, color: GREEN }, { data: velV1Filter, color: BLUE }],
    ylabel: [["v"], ["1", "sub"]], ylabelX: 472, legend: { x: 777, y: 9, w: 69, items: vioFilter } });
drawAxes({ box: [511, 851, 93, 168], yDomain: [-3.35, 3.0], yTicks: [-2.5, 0, 2.5], yFormat: ".1f", xTicks: ticksX60,
    series: [{ data: velV2Vio, color: GREEN }, { data: velV2Filter, color: BLUE }],
    ylabel: [["v"], ["2", "sub"]], ylabelX: 472 });
drawAxes({ box: [511, 851, 183, 258], yDomain: [-2.6, 2.19], yTicks: [-2, 0, 2], yFormat: "d", xTicks: ticksX60,
    series: [{ data: velV3Vio, color: GREEN }, { data: velV3Filter, color: BLUE }],
    ylabel: [["v"], ["3", "sub"]], ylabelX: 481 });
xlabel("Time [s]", 681, 288, 15.5);
caption("(b) velocity", 671, 328);

// (c)
drawAxes({ box: [959, 1299, 4, 78], yDomain: [-0.584, 0.584], yTicks: [-0.5, 0, 0.5], yFormat: ".1f", xTicks: ticksX60,
    series: [{ data: conS1SigUp, color: GREEN }, { data: conS1SigLo, color: GREEN }, { data: conS1Err, color: BLUE }],
    ylabel: [["s"], ["1", "sub"], [" [rad]"]], ylabelSize: 9.5, ylabelX: 922,
    legend: { x: 1225, y: 9, w: 68, items: [{ label: [["3"], ["σ", "it"]], color: GREEN }, { label: [["error"]], color: BLUE }] } });
drawAxes({ box: [959, 1299, 93, 168], yDomain: [-7.4, 7.6], yTicks: [-5, 0, 5], yFormat: "d", xTicks: ticksX60,
    series: [{ data: conV1SigUp, color: GREEN }, { data: conV1SigLo, color: GREEN }, { data: conV1Err, color: BLUE }],
    ylabel: [["v"], ["1", "sub"], [" [m/s]"]], ylabelSize: 9.5, ylabelX: 932 });
drawAxes({ box: [959, 1299, 183, 257], yDomain: [-0.56, 0.565], yTicks: [-0.5, 0, 0.5], yFormat: ".1f", xTicks: ticksX60,
    series: [{ data: conPsiSigUp, color: GREEN }, { data: conPsiSigLo, color: GREEN }, { data: conPsiErr, color: BLUE }],
    ylabel: [["ψ", "it"], [" [rad]"]], ylabelSize: 9.5, ylabelX: 922 });
xlabel("time [seconds]", 1129, 285, 9.5);
caption("(c) consistency", 1126, 328);

// (d)
drawAxes({ box: [62, 403, 376, 491], yDomain: [-0.0393, 0.063], yTicks: [-0.02, 0, 0.02, 0.04, 0.06], yFormat: ".2f", xTicks: ticksX40,
    series: [{ data: slowS1Vio, color: GREEN }, { data: slowS1Filter, color: BLUE }],
    ylabel: [["s"], ["1", "sub"]], ylabelX: 20, legend: { x: 330, y: 382, w: 67, items: vioFilter } });
drawAxes({ box: [62, 403, 514, 629], yDomain: [-0.0365, 0.0876], yTicks: [-0.025, 0, 0.025, 0.05, 0.075], yFormat: ".3f", xTicks: ticksX40,
    series: [{ data: slowS2Vio, color: GREEN }, { data: slowS2Filter, color: BLUE }],
    ylabel: [["s"], ["2", "sub"]], ylabelX: 15, ylabelClip: 8 });
xlabel("Time [s]", 232, 660, 15.5);
caption("(d) slow trajectory", 240, 699);

// (e)
drawAxes({ box: [511, 851, 376, 491], yDomain: [-1.01, 4.42], yTicks: [-1, 0, 1, 2, 3, 4], yFormat: "d", xTicks: ticksX60,
    series: [{ data: tiltS1Vio, color: GREEN }, { data: tiltS1Filter, color: BLUE }],
    ylabel: [["s"], ["1", "sub"]], ylabelX: 482, legend: { x: 777, y: 382, w: 69, items: vioFilter } });
drawAxes({ box: [511, 851, 514, 629], yDomain: [-0.44, 2.015], yTicks: [0, 0.5, 1, 1.5, 2], yFormat: ".1f", xTicks: ticksX60,
    series: [{ data: tiltS2Vio, color: GREEN }, { data: tiltS2Filter, color: BLUE }],
    ylabel: [["s"], ["2", "sub"]], ylabelX: 482 });
xlabel("Time [s]", 681, 660, 15.5);
caption("(e) tilt-yaw convention", 682, 699);

// (f)
drawAxes({ box: [959, 1299, 376, 629], yDomain: [-0.525, 0.79], yTicks: [-0.4, -0.2, 0, 0.2, 0.4, 0.6], yFormat: ".1f", xTicks: ticksX60,
    series: [{ data: yawNoVision, color: GREEN }, { data: yawOutlierRej, color: BLUE }, { data: yawNoOutlierRej, color: RED }],
    ylabel: [["ψ", "it"], [" error [rad]"]], ylabelSize: 15, ylabelX: 920, lw: 6,
    legend: { x: 963, y: 382, w: 153, items: [
        { label: [["no vision"]], color: GREEN },
        { label: [["outlier rejection"]], color: BLUE },
        { label: [["no outlier rejection"]], color: RED }] } });
xlabel("Time [s]", 1129, 660, 15.5);
caption("(f) yaw error", 1115, 699);
</script>
</body>
</html>
